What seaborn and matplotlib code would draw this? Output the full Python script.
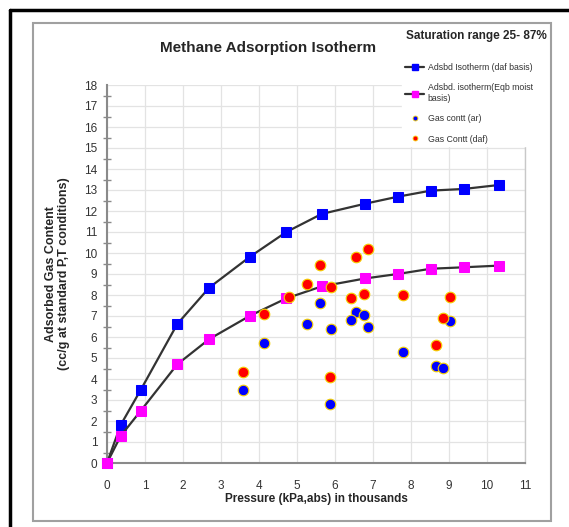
import numpy as np
import pandas as pd
import matplotlib
matplotlib.use("Agg")
import matplotlib.pyplot as plt
import seaborn as sns
from matplotlib.lines import Line2D
from matplotlib.patches import Rectangle

# Isotherm points (pressure in thousands of kPa, gas content cc/g)
pressure = [0, 0.36, 0.89, 1.85, 2.69, 3.76, 4.72, 5.65, 6.80, 7.65, 8.52, 9.39, 10.32]
iso_daf = [0, 1.81, 3.49, 6.62, 8.35, 9.82, 11.0, 11.86, 12.35, 12.68, 12.97, 13.05, 13.24]
iso_moist = [0, 1.29, 2.49, 4.70, 5.90, 7.01, 7.84, 8.41, 8.79, 9.0, 9.25, 9.32, 9.40]

# Measured gas contents
ar_p = [5.61, 6.54, 6.75, 6.42, 5.26, 5.89, 6.88, 9.03, 4.13, 7.79, 8.67, 8.83, 3.59, 5.87]
ar_v = [7.60, 7.17, 7.03, 6.79, 6.62, 6.37, 6.46, 6.78, 5.73, 5.29, 4.64, 4.52, 3.46, 2.80]
daf_p = [6.88, 6.54, 5.61, 5.26, 5.89, 4.79, 6.42, 6.75, 7.79, 9.02, 4.13, 8.83, 8.67, 3.59, 5.87]
daf_v = [10.17, 9.83, 9.43, 8.54, 8.40, 7.92, 7.87, 8.05, 8.0, 7.92, 7.11, 6.89, 5.60, 4.32, 4.08]

labels = ["Adsbd Isotherm (daf basis)", "Adsbd. isotherm(Eqb moist\nbasis)",
          "Gas contt (ar)", "Gas Contt (daf)"]

sns.set_style("white")
plt.rcParams["font.family"] = ["Liberation Sans", "DejaVu Sans"]

fig = plt.figure(figsize=(5.69, 5.27), dpi=100)
ax = fig.add_axes([107 / 569, 64 / 527, 418 / 569, 378 / 527])

line_kw = dict(color="#333333", linewidth=1.6, marker="s", markersize=7.5,
               sort=False, legend=False, zorder=3)
sns.lineplot(x=pressure, y=iso_daf, ax=ax, markerfacecolor="#0000FF",
             markeredgecolor="#0000FF", clip_on=False, **line_kw)
sns.lineplot(x=pressure, y=iso_moist, ax=ax, markerfacecolor="#FF00FF",
             markeredgecolor="#FF00FF", clip_on=False, **line_kw)

pt_kw = dict(s=58, edgecolor="#F5D000", linewidth=0.8, legend=False, zorder=4)
sns.scatterplot(x=ar_p, y=ar_v, ax=ax, color="#0000FF", **pt_kw)
sns.scatterplot(x=daf_p, y=daf_v, ax=ax, color="#FF0000", **pt_kw)

ax.set_xlim(0, 11)
ax.set_ylim(0, 18)
ax.set_xticks(range(0, 12))
ax.set_yticks(range(0, 19))
ax.set_yticks(np.arange(0.5, 18, 1), minor=True)
ax.grid(True, which="major", color="#e3e3e3", linewidth=0.9)
ax.set_axisbelow(True)

for side in ["left", "bottom"]:
    ax.spines[side].set_color("#8a8a8a")
    ax.spines[side].set_linewidth(1.5)
ax.spines["right"].set_color("#c8c8c8")
ax.spines["right"].set_linewidth(1.0)
ax.spines["top"].set_visible(False)

ax.tick_params(axis="y", which="major", direction="inout", length=8, width=1.2,
               color="#8a8a8a", labelsize=8.5, labelcolor="#333333", pad=3)
ax.tick_params(axis="y", which="minor", direction="inout", length=6, width=1.0,
               color="#8a8a8a", left=True)
ax.tick_params(axis="x", which="major", direction="out", length=4, width=1.2,
               color="#8a8a8a", labelsize=8.5, labelcolor="#333333", pad=8)

ax.set_xlabel("Pressure (kPa,abs) in thousands", fontsize=8.5,
              fontweight="bold", labelpad=1)
ax.set_ylabel("Adsorbed Gas Content\n(cc/g at standard P,T conditions)",
              fontsize=9, fontweight="bold", labelpad=10, linespacing=1.1)

fig.text(268 / 569, 1 - 48 / 527, "Methane Adsorption Isotherm", fontsize=11,
         fontweight="bold", ha="center", va="center")
fig.text(547 / 569, 1 - 36 / 527, "Saturation range 25- 87%", fontsize=8.5,
         fontweight="bold", ha="right", va="center")

handles = [
    Line2D([], [], color="#333333", linewidth=1.6, marker="s", markersize=5,
           markerfacecolor="#0000FF", markeredgecolor="#0000FF"),
    Line2D([], [], color="#333333", linewidth=1.6, marker="s", markersize=5,
           markerfacecolor="#FF00FF", markeredgecolor="#FF00FF"),
    Line2D([], [], linestyle="none", marker="o", markersize=3.5,
           markerfacecolor="#0000FF", markeredgecolor="#F5D000", markeredgewidth=0.6),
    Line2D([], [], linestyle="none", marker="o", markersize=3.5,
           markerfacecolor="#FF0000", markeredgecolor="#F5D000", markeredgewidth=0.6),
]
leg = fig.legend(handles, labels, loc="upper left",
                 bbox_to_anchor=(398 / 569, 1 - 56 / 527), frameon=True,
                 fontsize=6.3, handlelength=2.2, handletextpad=0.4,
                 labelspacing=1.3, borderpad=0.3, fancybox=False)
leg.get_frame().set_edgecolor("white")
leg.get_frame().set_facecolor("white")
leg.get_frame().set_alpha(1)
for t in leg.get_texts():
    t.set_color("#333333")

# chart frames
fig.patches.append(Rectangle((33 / 569, 6 / 527), 518 / 569, 498 / 527,
                             transform=fig.transFigure, fill=False,
                             edgecolor="#a0a0a0", linewidth=1.5, zorder=0))
fig.lines.append(Line2D([10 / 569, 10 / 569], [0, 1 - 10 / 527],
                        transform=fig.transFigure, color="black", linewidth=2.5))
fig.lines.append(Line2D([10 / 569, 1], [1 - 10 / 527, 1 - 10 / 527],
                        transform=fig.transFigure, color="black", linewidth=2.5))

fig.savefig("out.png", dpi=100)
